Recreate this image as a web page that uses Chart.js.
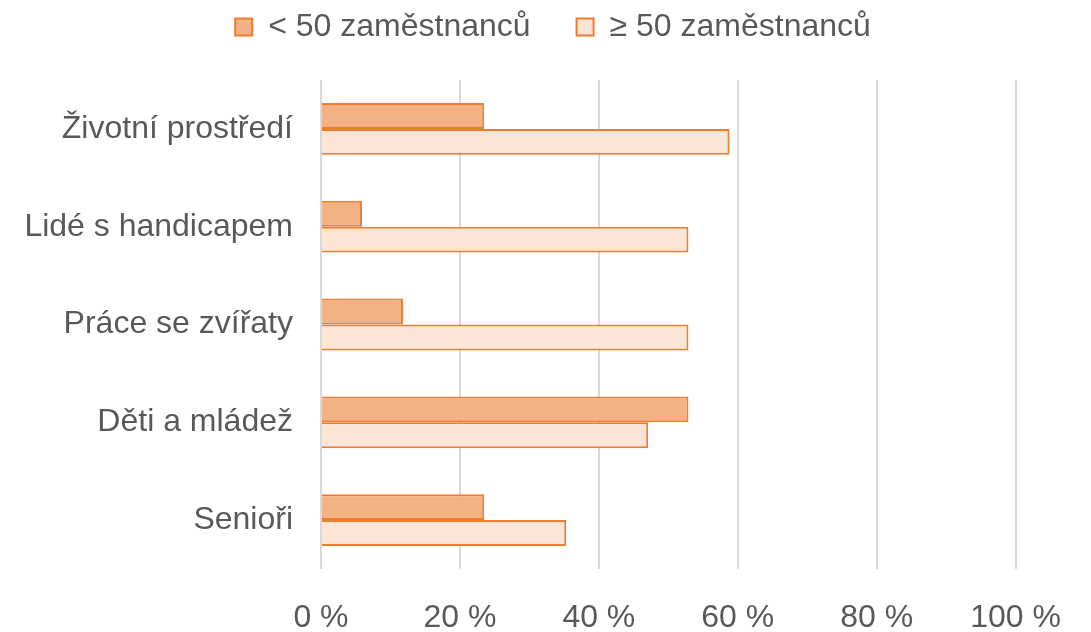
<!DOCTYPE html>
<html>
<head>
<meta charset="utf-8">
<script src="https://cdn.jsdelivr.net/npm/chart.js@4/dist/chart.umd.min.js"></script>
<style>
  html, body { margin: 0; padding: 0; background: #fff; }
  #wrap { width: 1091px; height: 632px; position: relative; }
</style>
</head>
<body>
<div id="wrap"><canvas id="chart"></canvas></div>
<script>
// data (shares of respondents)
const categories = ['Životní prostředí', 'Lidé s handicapem', 'Práce se zvířaty', 'Děti a mládež', 'Senioři'];
const seriesNames = ['< 50 zaměstnanců', '≥ 50 zaměstnanců'];
const small = [23.5, 5.9, 11.8, 52.9, 23.5];
const large = [58.8, 52.9, 52.9, 47.1, 35.3];
const xTicks = [0, 20, 40, 60, 80, 100];

const textColor = '#595959';
const font = { family: '"Liberation Sans", Arial, sans-serif', size: 32 };

// legend: fixed height block, drawn shifted so items sit where the original has them
const legendSpace = {
  id: 'legendSpace',
  beforeInit(chart) {
    const legend = chart.legend;
    const fit = legend.fit;
    legend.fit = function () {
      fit.call(this);
      this.height = 80;
    };
    const draw = legend.draw;
    legend.draw = function () {
      chart.ctx.save();
      chart.ctx.translate(45, -35);
      draw.call(this);
      chart.ctx.restore();
    };
  }
};

const ctx = document.getElementById('chart').getContext('2d');
const chart = new Chart(ctx, {
  type: 'bar',
  data: {
    labels: categories,
    datasets: [{
      label: seriesNames[0],
      data: small,
      backgroundColor: '#F4B183',
      borderColor: '#ED7D31',
      borderWidth: 2
    }, {
      label: seriesNames[1],
      data: large,
      backgroundColor: '#FBE5D6',
      borderColor: '#ED7D31',
      borderWidth: 2
    }]
  },
  options: {
    indexAxis: 'y',
    responsive: true,
    maintainAspectRatio: false,
    animation: false,
    categoryPercentage: 0.53,
    barPercentage: 1,
    layout: { padding: { left: 0, right: 75, top: 0, bottom: 0 } },
    scales: {
      x: {
        min: 0,
        max: 100,
        afterBuildTicks: scale => { scale.ticks = xTicks.map(v => ({ value: v })); },
        afterFit: scale => { scale.height = 63; },
        grid: { color: '#D9D9D9', lineWidth: 2, drawTicks: false },
        border: { display: false },
        ticks: {
          color: textColor,
          font: font,
          padding: 30,
          callback: v => v + ' %'
        }
      },
      y: {
        grid: { display: false, drawTicks: false },
        border: { display: false },
        afterFit: scale => { scale.width = 321; },
        ticks: { color: textColor, font: font, padding: 28 }
      }
    },
    plugins: {
      legend: {
        position: 'top',
        labels: {
          color: textColor,
          font: font,
          boxWidth: 17,
          boxHeight: 17,
          padding: 46
        }
      },
      tooltip: { enabled: false }
    }
  },
  plugins: [legendSpace]
});
</script>
</body>
</html>
